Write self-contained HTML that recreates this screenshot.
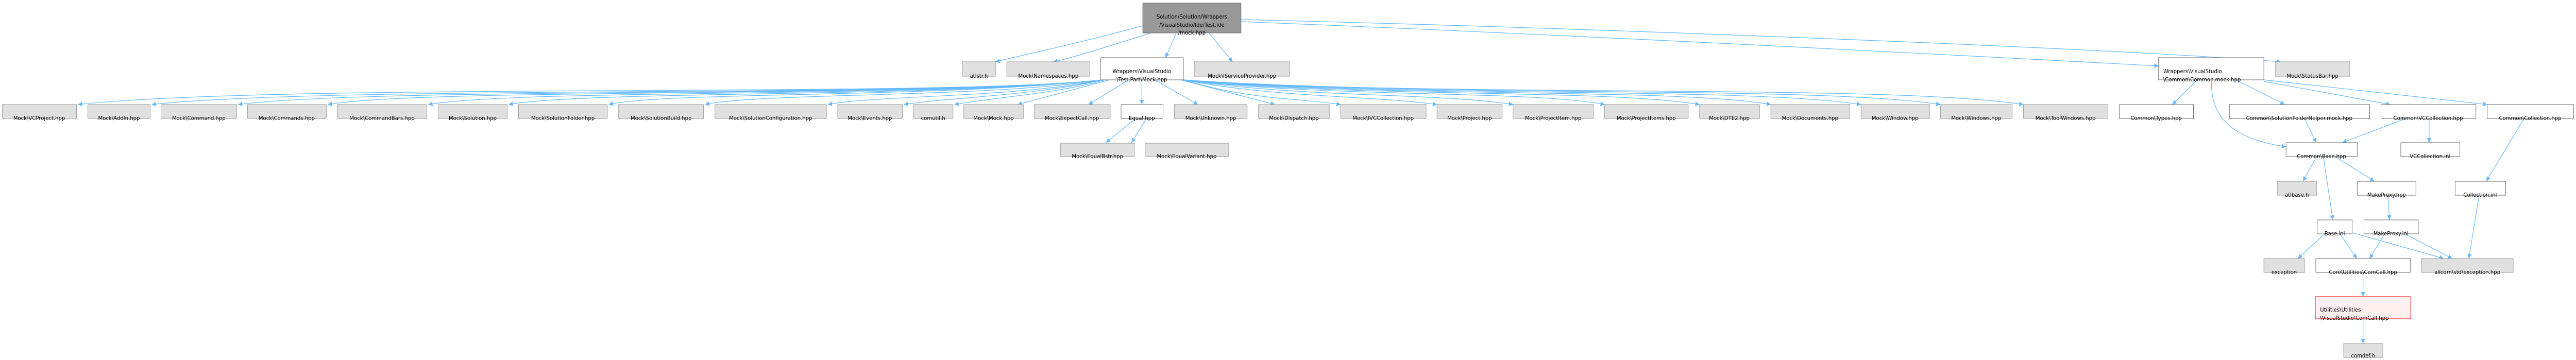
<!DOCTYPE html>
<html><head><meta charset="utf-8"><style>
html,body{margin:0;padding:0;background:#fff;width:100%;height:699px;overflow:hidden;}
svg{display:block;width:100%;height:699px;}
text{font-family:"DejaVu Sans","Liberation Sans",sans-serif;font-size:11px;fill:#000;}
.g{fill:#e0e0e0;stroke:#999;stroke-width:1;}
.w{fill:#fff;stroke:#666;stroke-width:1;}
.e{fill:none;stroke:#63b8ff;stroke-width:1.2;}
</style></head><body>
<svg width="100%" height="699" viewBox="0 0 5455 699" preserveAspectRatio="none" xmlns="http://www.w3.org/2000/svg">
<defs><marker id="a" viewBox="0 0 10 10" refX="10" refY="5" markerWidth="9" markerHeight="9" orient="auto" markerUnits="userSpaceOnUse"><path d="M0,0L10,5L0,10z" fill="#63b8ff"/></marker></defs>
<g class="e" marker-end="url(#a)">
<path d="M2420,50 C2280,85 2150,110 2108,120"/>
<path d="M2437,64 C2330,95 2260,115 2230,120"/>
<path d="M2491,64 L2468,112"/>
<path d="M2560,64 L2610,120"/>
<path d="M2628,38 C3400,55 4500,95 4830,120"/>
<path d="M2628,42 C3400,70 4300,115 4571,128"/>
<path d="M2335,155 C2000,190 600,160 165,203"/>
<path d="M2335,155 C2000,190 700,165 321,203"/>
<path d="M2335,155 C2000,190 800,168 504,203"/>
<path d="M2335,155 C2000,190 900,170 694,203"/>
<path d="M2335,155 C2000,190 1100,172 907,203"/>
<path d="M2335,155 C2000,190 1250,175 1077,203"/>
<path d="M2335,155 C2000,190 1400,178 1289,203"/>
<path d="M2335,155 C2100,190 1600,180 1493,203"/>
<path d="M2335,155 C2150,190 1850,185 1753,203"/>
<path d="M2335,155 C2200,185 2000,190 1914,203"/>
<path d="M2340,155 C2250,180 2100,190 2021,203"/>
<path d="M2350,155 L2155,203"/>
<path d="M2390,155 L2305,203"/>
<path d="M2418,155 L2418,203"/>
<path d="M2445,155 L2537,203"/>
<path d="M2500,155 L2700,203"/>
<path d="M2506,155 C2650,195 2750,190 2839,203"/>
<path d="M2506,155 C2700,190 2900,185 3043,203"/>
<path d="M2506,155 C2750,190 3050,180 3204,203"/>
<path d="M2506,155 C2800,190 3250,175 3398,203"/>
<path d="M2506,155 C2850,190 3400,172 3599,203"/>
<path d="M2506,155 C2900,190 3550,170 3750,203"/>
<path d="M2506,155 C2950,190 3700,168 3941,203"/>
<path d="M2506,155 C3000,190 3850,165 4109,203"/>
<path d="M2506,155 C3050,190 4000,162 4285,203"/>
<path d="M4653,155 L4600,203"/>
<path d="M4735,155 L4838,203"/>
<path d="M4794,158 L5062,203"/>
<path d="M4794,155 L5267,203"/>
<path d="M4683,155 C4680,230 4730,270 4841,285"/>
<path d="M4880,230 L4905,277"/>
<path d="M5095,230 L4960,277"/>
<path d="M5144,230 L5144,277"/>
<path d="M5345,230 L5265,352"/>
<path d="M4906,304 L4877,352"/>
<path d="M4945,304 L5028,352"/>
<path d="M4920,304 L4940,427"/>
<path d="M5057,379 L5060,427"/>
<path d="M5250,379 L5228,502"/>
<path d="M4923,454 L4866,502"/>
<path d="M4955,454 L4991,502"/>
<path d="M4982,452 L5175,502"/>
<path d="M5050,454 L5018,502"/>
<path d="M5092,454 L5193,502"/>
<path d="M5004,529 L5004,576"/>
<path d="M5004,619 L5004,667"/>
<path d="M2405,230 L2342,277"/>
<path d="M2428,230 L2396,277"/>
</g>
<rect x="2420" y="6" width="208" height="58" fill="#999" stroke="#666"/>
<text x="2524" y="36" text-anchor="middle">Solution/Solution/Wrappers</text>
<text x="2524" y="52" text-anchor="middle">/VisualStudio/Ide/Test.Ide</text>
<text x="2524" y="67" text-anchor="middle">/mock.hpp</text>

<rect class="g" x="2038" y="120" width="70" height="28"/><text x="2073" y="151" text-anchor="middle">atlstr.h</text>
<rect class="g" x="2132" y="120" width="176" height="28"/><text x="2220" y="151" text-anchor="middle">Mock\Namespaces.hpp</text>
<rect class="w" x="2331" y="112" width="175" height="43"/><text x="2418" y="142" text-anchor="middle">Wrappers\VisualStudio</text><text x="2418" y="158" text-anchor="middle">\Test.Part\Mock.hpp</text>
<rect class="g" x="2529" y="120" width="202" height="28"/><text x="2630" y="151" text-anchor="middle">Mock\IServiceProvider.hpp</text>
<rect class="w" x="4571" y="112" width="223" height="43"/><text x="4581" y="142">Wrappers\VisualStudio</text><text x="4581" y="158">\Common\Common.mock.hpp</text>
<rect class="g" x="4818" y="120" width="158" height="28"/><text x="4897" y="151" text-anchor="middle">Mock\StatusBar.hpp</text>

<rect class="g" x="5" y="203" width="157" height="27"/><text x="83" y="233" text-anchor="middle">Mock\VCProject.hpp</text>
<rect class="g" x="186" y="203" width="132" height="27"/><text x="252" y="233" text-anchor="middle">Mock\AddIn.hpp</text>
<rect class="g" x="341" y="203" width="160" height="27"/><text x="421" y="233" text-anchor="middle">Mock\Command.hpp</text>
<rect class="g" x="524" y="203" width="167" height="27"/><text x="607" y="233" text-anchor="middle">Mock\Commands.hpp</text>
<rect class="g" x="714" y="203" width="190" height="27"/><text x="809" y="233" text-anchor="middle">Mock\CommandBars.hpp</text>
<rect class="g" x="928" y="203" width="146" height="27"/><text x="1001" y="233" text-anchor="middle">Mock\Solution.hpp</text>
<rect class="g" x="1098" y="203" width="188" height="27"/><text x="1192" y="233" text-anchor="middle">Mock\SolutionFolder.hpp</text>
<rect class="g" x="1310" y="203" width="180" height="27"/><text x="1400" y="233" text-anchor="middle">Mock\SolutionBuild.hpp</text>
<rect class="g" x="1514" y="203" width="236" height="27"/><text x="1632" y="233" text-anchor="middle">Mock\SolutionConfiguration.hpp</text>
<rect class="g" x="1774" y="203" width="137" height="27"/><text x="1842" y="233" text-anchor="middle">Mock\Events.hpp</text>
<rect class="g" x="1934" y="203" width="84" height="27"/><text x="1976" y="233" text-anchor="middle">comutil.h</text>
<rect class="g" x="2041" y="203" width="126" height="27"/><text x="2104" y="233" text-anchor="middle">Mock\Mock.hpp</text>
<rect class="g" x="2190" y="203" width="161" height="27"/><text x="2270" y="233" text-anchor="middle">Mock\ExpectCall.hpp</text>
<rect class="w" x="2374" y="203" width="89" height="27"/><text x="2418" y="233" text-anchor="middle">Equal.hpp</text>
<rect class="g" x="2487" y="203" width="154" height="27"/><text x="2564" y="233" text-anchor="middle">Mock\Unknown.hpp</text>
<rect class="g" x="2665" y="203" width="150" height="27"/><text x="2740" y="233" text-anchor="middle">Mock\Dispatch.hpp</text>
<rect class="g" x="2839" y="203" width="181" height="27"/><text x="2929" y="233" text-anchor="middle">Mock\IVCCollection.hpp</text>
<rect class="g" x="3043" y="203" width="138" height="27"/><text x="3112" y="233" text-anchor="middle">Mock\Project.hpp</text>
<rect class="g" x="3204" y="203" width="170" height="27"/><text x="3289" y="233" text-anchor="middle">Mock\ProjectItem.hpp</text>
<rect class="g" x="3398" y="203" width="177" height="27"/><text x="3486" y="233" text-anchor="middle">Mock\ProjectItems.hpp</text>
<rect class="g" x="3599" y="203" width="127" height="27"/><text x="3662" y="233" text-anchor="middle">Mock\DTE2.hpp</text>
<rect class="g" x="3750" y="203" width="167" height="27"/><text x="3833" y="233" text-anchor="middle">Mock\Documents.hpp</text>
<rect class="g" x="3941" y="203" width="145" height="27"/><text x="4013" y="233" text-anchor="middle">Mock\Window.hpp</text>
<rect class="g" x="4109" y="203" width="152" height="27"/><text x="4185" y="233" text-anchor="middle">Mock\Windows.hpp</text>
<rect class="g" x="4285" y="203" width="179" height="27"/><text x="4374" y="233" text-anchor="middle">Mock\ToolWindows.hpp</text>
<rect class="w" x="4488" y="203" width="157" height="27"/><text x="4566" y="233" text-anchor="middle">Common\Types.hpp</text>
<rect class="w" x="4721" y="203" width="297" height="27"/><text x="4869" y="233" text-anchor="middle">Common\SolutionFolderHelper.mock.hpp</text>
<rect class="w" x="5042" y="203" width="201" height="27"/><text x="5142" y="233" text-anchor="middle">Common\VCCollection.hpp</text>
<rect class="w" x="5267" y="203" width="183" height="27"/><text x="5358" y="233" text-anchor="middle">Common\Collection.hpp</text>

<rect class="g" x="2246" y="278" width="156" height="26"/><text x="2324" y="307" text-anchor="middle">Mock\EqualBstr.hpp</text>
<rect class="g" x="2425" y="278" width="177" height="26"/><text x="2513" y="307" text-anchor="middle">Mock\EqualVariant.hpp</text>

<rect class="w" x="4841" y="277" width="151" height="27"/><text x="4916" y="307" text-anchor="middle">Common\Base.hpp</text>
<rect class="w" x="5084" y="277" width="125" height="27"/><text x="5146" y="307" text-anchor="middle">VCCollection.inl</text>
<rect class="g" x="4823" y="352" width="83" height="27"/><text x="4864" y="382" text-anchor="middle">atlbase.h</text>
<rect class="w" x="4992" y="352" width="124" height="27"/><text x="5054" y="382" text-anchor="middle">MakeProxy.hpp</text>
<rect class="w" x="5199" y="352" width="107" height="27"/><text x="5252" y="382" text-anchor="middle">Collection.inl</text>
<rect class="w" x="4907" y="427" width="74" height="27"/><text x="4944" y="457" text-anchor="middle">Base.inl</text>
<rect class="w" x="5006" y="427" width="115" height="27"/><text x="5063" y="457" text-anchor="middle">MakeProxy.inl</text>
<rect class="g" x="4794" y="502" width="86" height="27"/><text x="4837" y="532" text-anchor="middle">exception</text>
<rect class="w" x="4904" y="502" width="200" height="27"/><text x="5004" y="532" text-anchor="middle">Core\Utilities\ComCall.hpp</text>
<rect class="g" x="5128" y="502" width="194" height="27"/><text x="5225" y="532" text-anchor="middle">alicorn\std\exception.hpp</text>
<rect x="4903" y="576" width="202" height="43" fill="#fff0f0" stroke="#f00"/><text x="4913" y="605">Utilities\Utilities</text><text x="4913" y="621">\VisualStudio\ComCall.hpp</text>
<rect class="g" x="4963" y="667" width="83" height="27"/><text x="5004" y="694" text-anchor="middle">comdef.h</text>
</svg>
</body></html>
